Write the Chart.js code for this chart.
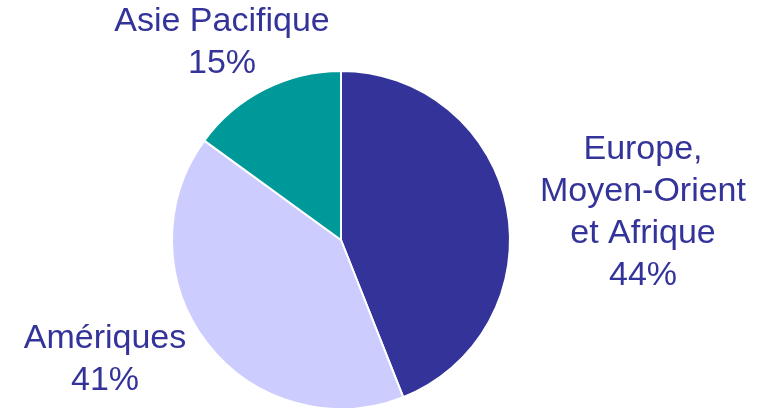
<!DOCTYPE html>
<html>
<head>
<meta charset="utf-8">
<script src="https://cdn.jsdelivr.net/npm/chart.js@4/dist/chart.umd.min.js"></script>
<style>
  html, body { margin: 0; padding: 0; background: #fff; overflow: hidden; }
  #wrap { width: 761px; height: 420px; }
</style>
</head>
<body>
<div id="wrap"><canvas id="chart"></canvas></div>
<script>
const regions = ["Europe, Moyen-Orient et Afrique", "Amériques", "Asie Pacifique"];
const shares = [44, 41, 15];
const labelLines = [["Europe,", "Moyen-Orient", "et Afrique"], ["Amériques"], ["Asie Pacifique"]];
const sliceColors = ["#333399", "#CCCCFF", "#009999"];

// label anchors relative to pie centre (first line middle)
const labelOffsets = [[302, -90], [-236, 99], [-119, -218]];

const sliceLabels = {
  id: "sliceLabels",
  afterDatasetsDraw(chart) {
    const ctx = chart.ctx;
    const arcs = chart.getDatasetMeta(0).data;
    ctx.save();
    ctx.fillStyle = "#333399";
    ctx.font = "34px 'Liberation Sans', Arial, sans-serif";
    ctx.textAlign = "center";
    ctx.textBaseline = "middle";
    arcs.forEach((arc, i) => {
      const lines = labelLines[i].concat([shares[i] + "%"]);
      const x = arc.x + labelOffsets[i][0];
      let y = arc.y + labelOffsets[i][1];
      lines.forEach((t) => {
        ctx.fillText(t, x, y);
        y += 42;
      });
    });
    ctx.restore();
  }
};

new Chart(document.getElementById("chart"), {
  type: "pie",
  data: {
    labels: regions,
    datasets: [{
      data: shares,
      backgroundColor: sliceColors,
      borderColor: "#ffffff",
      borderWidth: 2
    }]
  },
  options: {
    responsive: true,
    maintainAspectRatio: false,
    animation: false,
    layout: { padding: { top: 70, bottom: 10, left: 171, right: 250 } },
    plugins: {
      legend: { display: false },
      tooltip: { enabled: false }
    }
  },
  plugins: [sliceLabels]
});
</script>
</body>
</html>
